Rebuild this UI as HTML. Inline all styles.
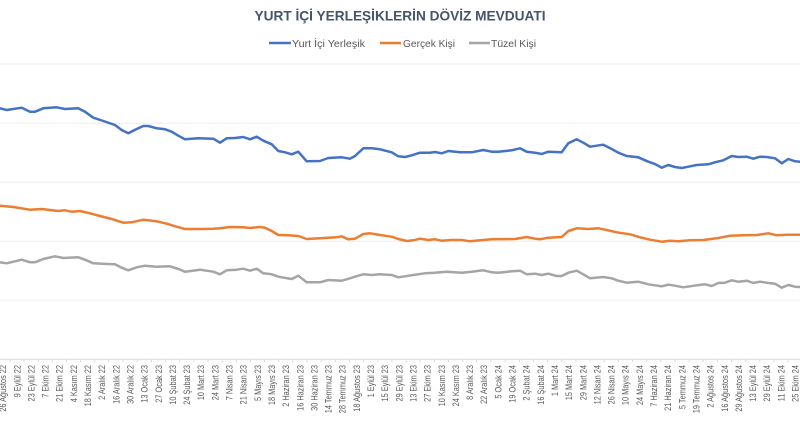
<!DOCTYPE html>
<html>
<head>
<meta charset="utf-8">
<style>
html,body{margin:0;padding:0;background:#fff;}
svg{display:block;}
</style>
</head>
<body>
<svg width="800" height="429" viewBox="0 0 800 429" xmlns="http://www.w3.org/2000/svg">
<rect x="0" y="0" width="800" height="429" fill="#ffffff"/>

<!-- Title -->
<text x="400" y="20.5" text-anchor="middle" font-family="Liberation Sans, Arial, sans-serif" font-weight="bold" font-size="14" fill="#44546a" textLength="291" lengthAdjust="spacingAndGlyphs">YURT İÇİ YERLEŞİKLERİN DÖVİZ MEVDUATI</text>

<!-- Legend -->
<g font-family="Liberation Sans, Arial, sans-serif" font-size="10.5" fill="#595959">
<line x1="269" y1="43" x2="291" y2="43" stroke="#4472c4" stroke-width="2.5"/>
<text x="292" y="47" textLength="73" lengthAdjust="spacingAndGlyphs">Yurt İçi Yerleşik</text>
<line x1="380" y1="43" x2="401" y2="43" stroke="#ed7d31" stroke-width="2.5"/>
<text x="403" y="47" textLength="52" lengthAdjust="spacingAndGlyphs">Gerçek Kişi</text>
<line x1="469" y1="43" x2="490" y2="43" stroke="#a5a5a5" stroke-width="2.5"/>
<text x="491" y="47" textLength="45" lengthAdjust="spacingAndGlyphs">Tüzel Kişi</text>
</g>

<!-- Gridlines -->
<g stroke="#ededf0" stroke-width="1">
<line x1="0" y1="64" x2="800" y2="64"/>
<line x1="0" y1="123.3" x2="800" y2="123.3"/>
<line x1="0" y1="182.3" x2="800" y2="182.3"/>
<line x1="0" y1="241.3" x2="800" y2="241.3"/>
<line x1="0" y1="300.3" x2="800" y2="300.3"/>
</g>
<line x1="0" y1="359.3" x2="800" y2="359.3" stroke="#d9d9d9" stroke-width="1"/>

<!-- Ticks -->
<path stroke="#d9d9d9" stroke-width="1" fill="none" d="M9.9 359.3v3M24 359.3v3M38.2 359.3v3M52.3 359.3v3M66.5 359.3v3M80.6 359.3v3M94.8 359.3v3M108.9 359.3v3M123.1 359.3v3M137.2 359.3v3M151.4 359.3v3M165.5 359.3v3M179.7 359.3v3M193.8 359.3v3M208 359.3v3M222.1 359.3v3M236.3 359.3v3M250.4 359.3v3M264.6 359.3v3M278.7 359.3v3M292.9 359.3v3M307 359.3v3M321.2 359.3v3M335.3 359.3v3M349.5 359.3v3M363.6 359.3v3M377.8 359.3v3M391.9 359.3v3M406.1 359.3v3M420.2 359.3v3M434.4 359.3v3M448.5 359.3v3M462.7 359.3v3M476.8 359.3v3M491 359.3v3M505.1 359.3v3M519.3 359.3v3M533.4 359.3v3M547.6 359.3v3M561.7 359.3v3M575.9 359.3v3M590 359.3v3M604.2 359.3v3M618.3 359.3v3M632.5 359.3v3M646.6 359.3v3M660.8 359.3v3M674.9 359.3v3M689.1 359.3v3M703.2 359.3v3M717.4 359.3v3M731.5 359.3v3M745.7 359.3v3M759.8 359.3v3M774 359.3v3M788.1 359.3v3"/>

<!-- Series -->
<g fill="none" stroke-width="2.5" stroke-linejoin="round" stroke-linecap="round">
<polyline stroke="#4472c4" points="0,108.3 6.7,110 21.7,107.7 30,111.7 35,111.7 43.3,108.3 56.7,107.3 65,109 78.3,108.3 85,111.7 93.3,117.7 103.3,121 115,125 121.7,130 128.3,133.3 136.7,129 143.3,126 148.3,126 156.7,128.3 165,129.3 171.7,131.7 178.3,135.7 185,139.3 198.3,138.3 213.3,138.7 220,142.7 226.7,138.3 235,138 243.3,137 250,139.3 256.7,136.7 263.3,140.7 271.7,144.3 278.3,151 285,152.3 291.7,154.3 298.3,151.7 306.7,161.3 320,161 328.3,158 341.7,157.3 350,158.7 355,156 363.3,148.3 371.7,148.3 380,149.3 391.7,152.3 398.3,156.3 405,157 411.7,155.3 420,152.7 430,152.7 435,152 441.7,153.3 448.3,151 460,152.3 471.7,152.3 483.3,150 491.7,151.7 498.3,151.7 511.7,150.3 520,148.3 526.7,151.7 535,152.7 541.7,154 548.3,151.7 561.7,152.3 568.3,143.3 576.7,139.3 583.3,142.7 590,146.7 603.3,144.7 611.7,149 618.3,152.7 626.7,156 638.3,157.3 648.3,161.7 655,164 661.7,167.7 668.3,165 675,167 681.7,168 688.3,166.7 696.7,165 708.3,164.3 715,162.3 723.3,160.3 731.7,156 738.3,157 746.7,156.7 753.3,158.7 760,156.7 766.7,157 775,158.3 781.7,163.3 788.3,159 795,161.3 800,161.7"/>
<polyline stroke="#ed7d31" points="0,205.7 13.3,207 30,209.7 41.7,209 58.3,211 65,210.3 71.7,211.7 80,211 90,213.3 100,216 111.7,219 123.3,222.7 131.7,222.3 143.3,219.7 156.7,221.3 166.7,223.7 176.7,226.7 185,229 200,229 213.3,228.7 220,228.3 230,227 243.3,227.3 250,228 260,227 265,227.7 271.7,231 278.3,235 288.3,235.3 298.3,236 306.7,239 320,238.3 328.3,237.7 336.7,237.3 341.7,236.3 348.3,239.3 355,238.7 363.3,234 370,233.3 380,235 391.7,236.7 398.3,239 406.7,241 413.3,240.3 420,238.7 428.3,240 435,239.3 441.7,240.7 451.7,240 461.7,240 470,241.3 483.3,240 491.7,239.3 515,239 526.7,237 535,238.7 540,239.3 548.3,237.7 561.7,237 568.3,231 576.7,228.3 588.3,229 598.3,228.3 606.7,230 616.7,232.3 630,234.3 640,237.3 650,239.7 661.7,241.7 670,240.7 678.3,241.3 690,240.3 703.3,240 716.7,238.3 730,235.7 743.3,235.3 756.7,235 768.3,233.3 776.7,235.3 786.7,234.7 800,234.7"/>
<polyline stroke="#a5a5a5" points="0,262.3 6.7,263.3 21.7,259.7 30,262.3 35,262.3 43.3,259 55,256.3 63.3,258 78.3,257.3 85,259.7 93.3,263.3 106.7,264 115,264.3 121.7,267.7 128.3,270.3 136.7,267.3 145,265.7 156.7,266.7 170,266.3 178.3,269 185,271.7 200,269.7 213.3,271.7 220,274.3 226.7,270.3 236.7,269.7 243.3,268.7 250,270.7 256.7,268.7 263.3,273.3 271.7,274.3 278.3,276.7 291.7,279 298.3,275.7 306.7,282.3 320,282.3 328.3,280 341.7,280.7 350,278.3 355,276.7 363.3,274.3 371.7,275 380,274.3 391.7,275 398.3,277.3 405,276.3 413.3,275 425,273.3 435,272.7 446.7,271.7 461.7,272.7 471.7,271.7 483.3,270.3 491.7,272.3 498.3,272.7 511.7,271.3 520,270.7 526.7,274.3 535,273.7 541.7,275 548.3,273.7 556.7,276 561.7,276 568.3,272.7 576.7,270.7 583.3,274.3 590,278.3 603.3,277 611.7,278.3 618.3,280.7 626.7,282.7 638.3,281.7 648.3,284.3 655,285.3 661.7,286.3 668.3,284.7 675,285.7 683.3,287.3 696.7,285.3 705,284.3 711.7,286 718.3,283 725,282.7 731.7,280.3 738.3,281.7 746.7,280.7 753.3,283 760,281.7 766.7,282.7 775,283.7 781.7,287.7 788.3,285 795,286.7 800,287"/>
</g>

<!-- X axis labels -->
<g font-family="Liberation Sans, Arial, sans-serif" font-size="9" fill="#595959" text-anchor="end">
<text transform="translate(6.1,365) rotate(-90) scale(0.82,1)">26 Ağustos 22</text>
<text transform="translate(20.25,365) rotate(-90) scale(0.82,1)">9 Eylül 22</text>
<text transform="translate(34.4,365) rotate(-90) scale(0.82,1)">23 Eylül 22</text>
<text transform="translate(48.55,365) rotate(-90) scale(0.82,1)">7 Ekim 22</text>
<text transform="translate(62.7,365) rotate(-90) scale(0.82,1)">21 Ekim 22</text>
<text transform="translate(76.85,365) rotate(-90) scale(0.82,1)">4 Kasım 22</text>
<text transform="translate(91,365) rotate(-90) scale(0.82,1)">18 Kasım 22</text>
<text transform="translate(105.15,365) rotate(-90) scale(0.82,1)">2 Aralık 22</text>
<text transform="translate(119.3,365) rotate(-90) scale(0.82,1)">16 Aralık 22</text>
<text transform="translate(133.45,365) rotate(-90) scale(0.82,1)">30 Aralık 22</text>
<text transform="translate(147.6,365) rotate(-90) scale(0.82,1)">13 Ocak 23</text>
<text transform="translate(161.75,365) rotate(-90) scale(0.82,1)">27 Ocak 23</text>
<text transform="translate(175.9,365) rotate(-90) scale(0.82,1)">10 Şubat 23</text>
<text transform="translate(190.05,365) rotate(-90) scale(0.82,1)">24 Şubat 23</text>
<text transform="translate(204.2,365) rotate(-90) scale(0.82,1)">10 Mart 23</text>
<text transform="translate(218.35,365) rotate(-90) scale(0.82,1)">24 Mart 23</text>
<text transform="translate(232.5,365) rotate(-90) scale(0.82,1)">7 Nisan 23</text>
<text transform="translate(246.65,365) rotate(-90) scale(0.82,1)">21 Nisan 23</text>
<text transform="translate(260.8,365) rotate(-90) scale(0.82,1)">5 Mayıs 23</text>
<text transform="translate(274.95,365) rotate(-90) scale(0.82,1)">18 Mayıs 23</text>
<text transform="translate(289.1,365) rotate(-90) scale(0.82,1)">2 Haziran 23</text>
<text transform="translate(303.25,365) rotate(-90) scale(0.82,1)">16 Haziran 23</text>
<text transform="translate(317.4,365) rotate(-90) scale(0.82,1)">30 Haziran 23</text>
<text transform="translate(331.55,365) rotate(-90) scale(0.82,1)">14 Temmuz 23</text>
<text transform="translate(345.7,365) rotate(-90) scale(0.82,1)">28 Temmuz 23</text>
<text transform="translate(359.85,365) rotate(-90) scale(0.82,1)">18 Ağustos 23</text>
<text transform="translate(374,365) rotate(-90) scale(0.82,1)">1 Eylül 23</text>
<text transform="translate(388.15,365) rotate(-90) scale(0.82,1)">15 Eylül 23</text>
<text transform="translate(402.3,365) rotate(-90) scale(0.82,1)">29 Eylül 23</text>
<text transform="translate(416.45,365) rotate(-90) scale(0.82,1)">13 Ekim 23</text>
<text transform="translate(430.6,365) rotate(-90) scale(0.82,1)">27 Ekim 23</text>
<text transform="translate(444.75,365) rotate(-90) scale(0.82,1)">10 Kasım 23</text>
<text transform="translate(458.9,365) rotate(-90) scale(0.82,1)">24 Kasım 23</text>
<text transform="translate(473.05,365) rotate(-90) scale(0.82,1)">8 Aralık 23</text>
<text transform="translate(487.2,365) rotate(-90) scale(0.82,1)">22 Aralık 23</text>
<text transform="translate(501.35,365) rotate(-90) scale(0.82,1)">5 Ocak 24</text>
<text transform="translate(515.5,365) rotate(-90) scale(0.82,1)">19 Ocak 24</text>
<text transform="translate(529.65,365) rotate(-90) scale(0.82,1)">2 Şubat 24</text>
<text transform="translate(543.8,365) rotate(-90) scale(0.82,1)">16 Şubat 24</text>
<text transform="translate(557.95,365) rotate(-90) scale(0.82,1)">1 Mart 24</text>
<text transform="translate(572.1,365) rotate(-90) scale(0.82,1)">15 Mart 24</text>
<text transform="translate(586.25,365) rotate(-90) scale(0.82,1)">29 Mart 24</text>
<text transform="translate(600.4,365) rotate(-90) scale(0.82,1)">12 Nisan 24</text>
<text transform="translate(614.55,365) rotate(-90) scale(0.82,1)">26 Nisan 24</text>
<text transform="translate(628.7,365) rotate(-90) scale(0.82,1)">10 Mayıs 24</text>
<text transform="translate(642.85,365) rotate(-90) scale(0.82,1)">24 Mayıs 24</text>
<text transform="translate(657,365) rotate(-90) scale(0.82,1)">7 Haziran 24</text>
<text transform="translate(671.15,365) rotate(-90) scale(0.82,1)">21 Haziran 24</text>
<text transform="translate(685.3,365) rotate(-90) scale(0.82,1)">5 Temmuz 24</text>
<text transform="translate(699.45,365) rotate(-90) scale(0.82,1)">19 Temmuz 24</text>
<text transform="translate(713.6,365) rotate(-90) scale(0.82,1)">2 Ağustos 24</text>
<text transform="translate(727.75,365) rotate(-90) scale(0.82,1)">16 Ağustos 24</text>
<text transform="translate(741.9,365) rotate(-90) scale(0.82,1)">29 Ağustos 24</text>
<text transform="translate(756.05,365) rotate(-90) scale(0.82,1)">13 Eylül 24</text>
<text transform="translate(770.2,365) rotate(-90) scale(0.82,1)">29 Eylül 24</text>
<text transform="translate(784.35,365) rotate(-90) scale(0.82,1)">11 Ekim 24</text>
<text transform="translate(798.5,365) rotate(-90) scale(0.82,1)">25 Ekim 24</text>
</g>
</svg>
</body>
</html>
